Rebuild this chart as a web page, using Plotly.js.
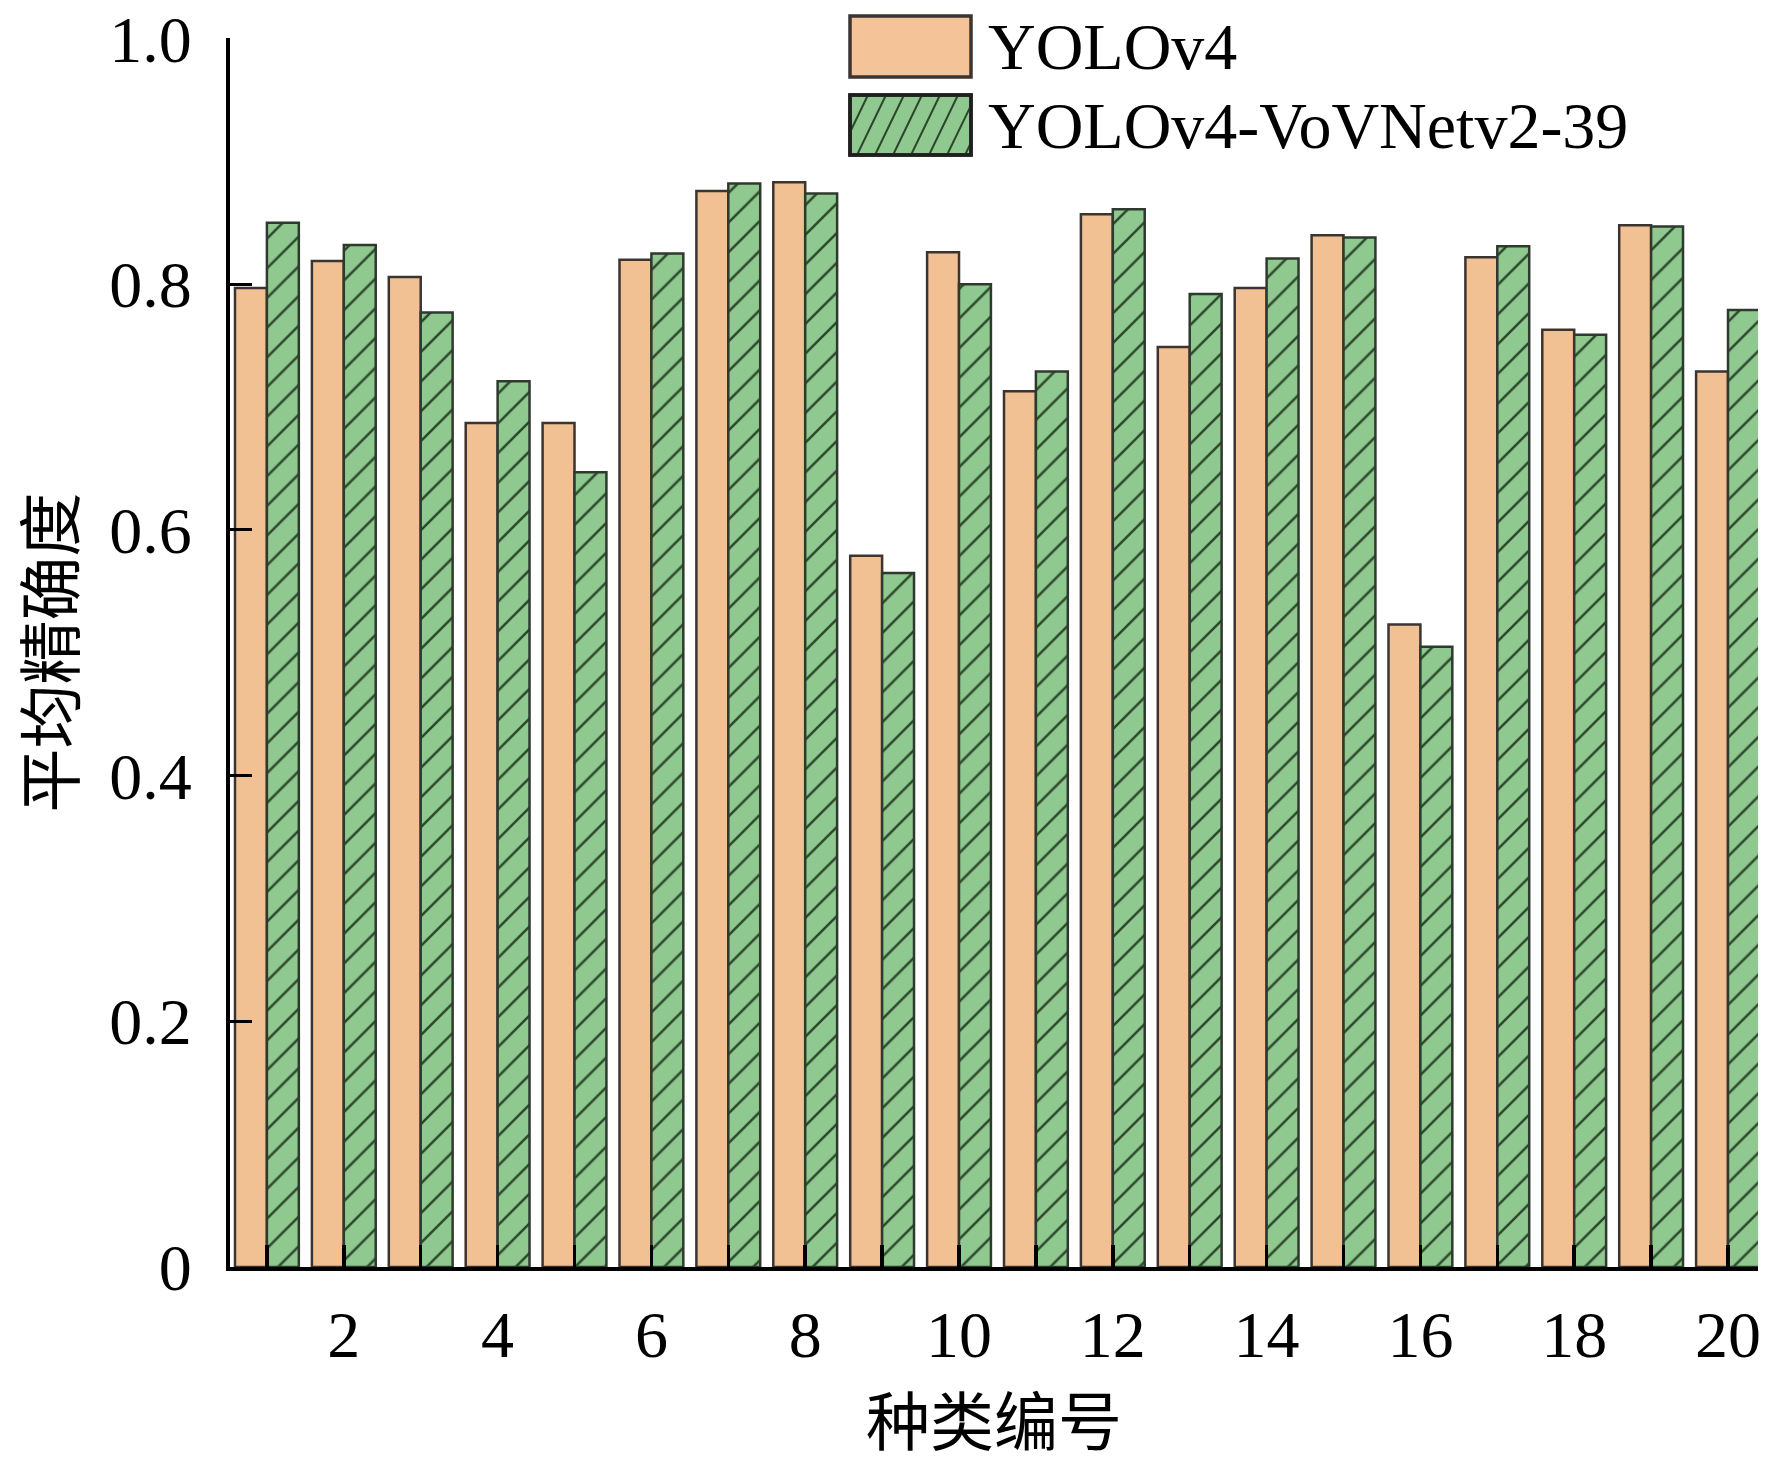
<!DOCTYPE html>
<html>
<head>
<meta charset="utf-8">
<script src="https://cdn.plot.ly/plotly-3.0.1.min.js"></script>
<style>html,body{margin:0;padding:0;background:#fff;}#chart{width:1772px;height:1463px;}</style>
</head>
<body>
<div id="chart"></div>
<script>
// ---- data ----
const categories = [1, 2, 3, 4, 5, 6, 7, 8, 9, 10, 11, 12, 13, 14, 15, 16, 17, 18, 19, 20];
const yolov4 = [0.797, 0.819, 0.806, 0.687, 0.687, 0.820, 0.876, 0.883, 0.579, 0.826,
                0.713, 0.857, 0.749, 0.797, 0.840, 0.523, 0.822, 0.763, 0.848, 0.729];
const yolov4Vov = [0.850, 0.832, 0.777, 0.721, 0.647, 0.825, 0.882, 0.874, 0.565, 0.800,
                   0.729, 0.861, 0.792, 0.821, 0.838, 0.505, 0.831, 0.759, 0.847, 0.779];
const xTickLabels = ['', '2', '', '4', '', '6', '', '8', '', '10', '', '12', '', '14', '', '16', '', '18', '', '20'];
const yTickVals = [0, 0.2, 0.4, 0.6, 0.8, 1.0];
const yTickLabels = ['0', '0.2', '0.4', '0.6', '0.8', '1.0'];
const seriesNames = ['YOLOv4', 'YOLOv4-VoVNetv2-39'];
const xTitle = '种类编号';
const yTitle = '平均精确度';

// ---- styles ----
const ORANGE = '#F1C093';
const GREEN = '#8FC98F';
const EDGE = '#3b3431';
const SERIF = '"Liberation Serif", "Times New Roman", "Noto Sans CJK SC", serif';
const CJK = '"Noto Sans CJK SC", "Liberation Serif", sans-serif';

// plot area geometry (pixels) for legend decoration
const W = 1772, H = 1463;
const M = {l: 230, r: 14, t: 38, b: 196};
const PW = W - M.l - M.r, PH = H - M.t - M.b;
const px = x => (x - M.l) / PW;
const py = y => (H - M.b - y) / PH;

const traces = [
  {
    type: 'bar', name: seriesNames[0], x: categories, y: yolov4,
    marker: {color: ORANGE, line: {color: EDGE, width: 2.5}}
  },
  {
    type: 'bar', name: seriesNames[1], x: categories, y: yolov4Vov,
    marker: {
      color: GREEN,
      line: {color: '#2f3a2f', width: 2.5},
      pattern: {shape: '/', bgcolor: GREEN, fgcolor: '#2d472d', size: 21, solidity: 0.12}
    }
  }
];

// legend swatches (manual, to match large boxes)
const sw = {x0: 850, x1: 971};
const rowO = {y0: 16, y1: 77};
const rowG = {y0: 95, y1: 155};
let hatch = '';
const run = 29, step = 18;
for (let b = sw.x0 - run; b < sw.x1 + step; b += step) {
  let t0 = Math.max(0, (sw.x0 - b) / run);
  let t1 = Math.min(1, (sw.x1 - b) / run);
  if (t1 <= t0) continue;
  const h = rowG.y1 - rowG.y0;
  const xa = b + run * t0, ya = rowG.y1 - h * t0;
  const xb = b + run * t1, yb = rowG.y1 - h * t1;
  hatch += 'M' + px(xa).toFixed(5) + ',' + py(ya).toFixed(5) + 'L' + px(xb).toFixed(5) + ',' + py(yb).toFixed(5);
}

const shapes = [
  {type: 'rect', xref: 'paper', yref: 'paper', x0: px(sw.x0), x1: px(sw.x1), y0: py(rowO.y1), y1: py(rowO.y0),
   fillcolor: '#F5C398', line: {color: EDGE, width: 3.5}},
  {type: 'rect', xref: 'paper', yref: 'paper', x0: px(sw.x0), x1: px(sw.x1), y0: py(rowG.y1), y1: py(rowG.y0),
   fillcolor: GREEN, line: {color: '#1f1f1f', width: 3.5}},
  {type: 'path', xref: 'paper', yref: 'paper', path: hatch, line: {color: '#2d472d', width: 2}},
  {type: 'rect', xref: 'paper', yref: 'paper', x0: px(sw.x0), x1: px(sw.x1), y0: py(rowG.y1), y1: py(rowG.y0),
   fillcolor: 'rgba(0,0,0,0)', line: {color: '#1f1f1f', width: 3.5}}
];

const annotations = [
  {xref: 'paper', yref: 'paper', x: px(986), y: py(46), xanchor: 'left', yanchor: 'middle', showarrow: false,
   text: seriesNames[0], font: {family: SERIF, size: 66, color: '#000'}},
  {xref: 'paper', yref: 'paper', x: px(986), y: py(125), xanchor: 'left', yanchor: 'middle', showarrow: false,
   text: seriesNames[1], font: {family: SERIF, size: 66, color: '#000'}}
];

const layout = {
  width: W, height: H,
  margin: M,
  paper_bgcolor: '#fff', plot_bgcolor: '#fff',
  showlegend: false,
  barmode: 'group', bargap: 0.17, bargroupgap: 0,
  font: {family: SERIF, color: '#000'},
  xaxis: {
    range: [0.52, 20.39],
    tickvals: categories, ticktext: xTickLabels,
    ticks: 'inside', ticklen: 22, tickwidth: 3.5, tickcolor: '#000',
    showline: true, linewidth: 4, linecolor: '#000',
    showgrid: false, zeroline: false,
    tickfont: {family: SERIF, size: 66, color: '#000'},
    ticklabelstandoff: 7,
    ticklabeloverflow: 'allow',
    title: {text: xTitle, font: {family: CJK, size: 64, color: '#000'}, standoff: 40}
  },
  yaxis: {
    range: [0, 1.0005],
    tickvals: yTickVals, ticktext: yTickLabels,
    ticks: 'inside', ticklen: 22, tickwidth: 3, tickcolor: '#000',
    showline: true, linewidth: 4, linecolor: '#000',
    showgrid: false, zeroline: false,
    tickfont: {family: SERIF, size: 66, color: '#000'},
    ticklabelstandoff: 21,
    ticklabeloverflow: 'allow',
    title: {text: yTitle, font: {family: CJK, size: 64, color: '#000'}, standoff: 20}
  },
  shapes: shapes,
  annotations: annotations
};

Plotly.newPlot('chart', traces, layout, {staticPlot: true, displayModeBar: false});
</script>
</body>
</html>
